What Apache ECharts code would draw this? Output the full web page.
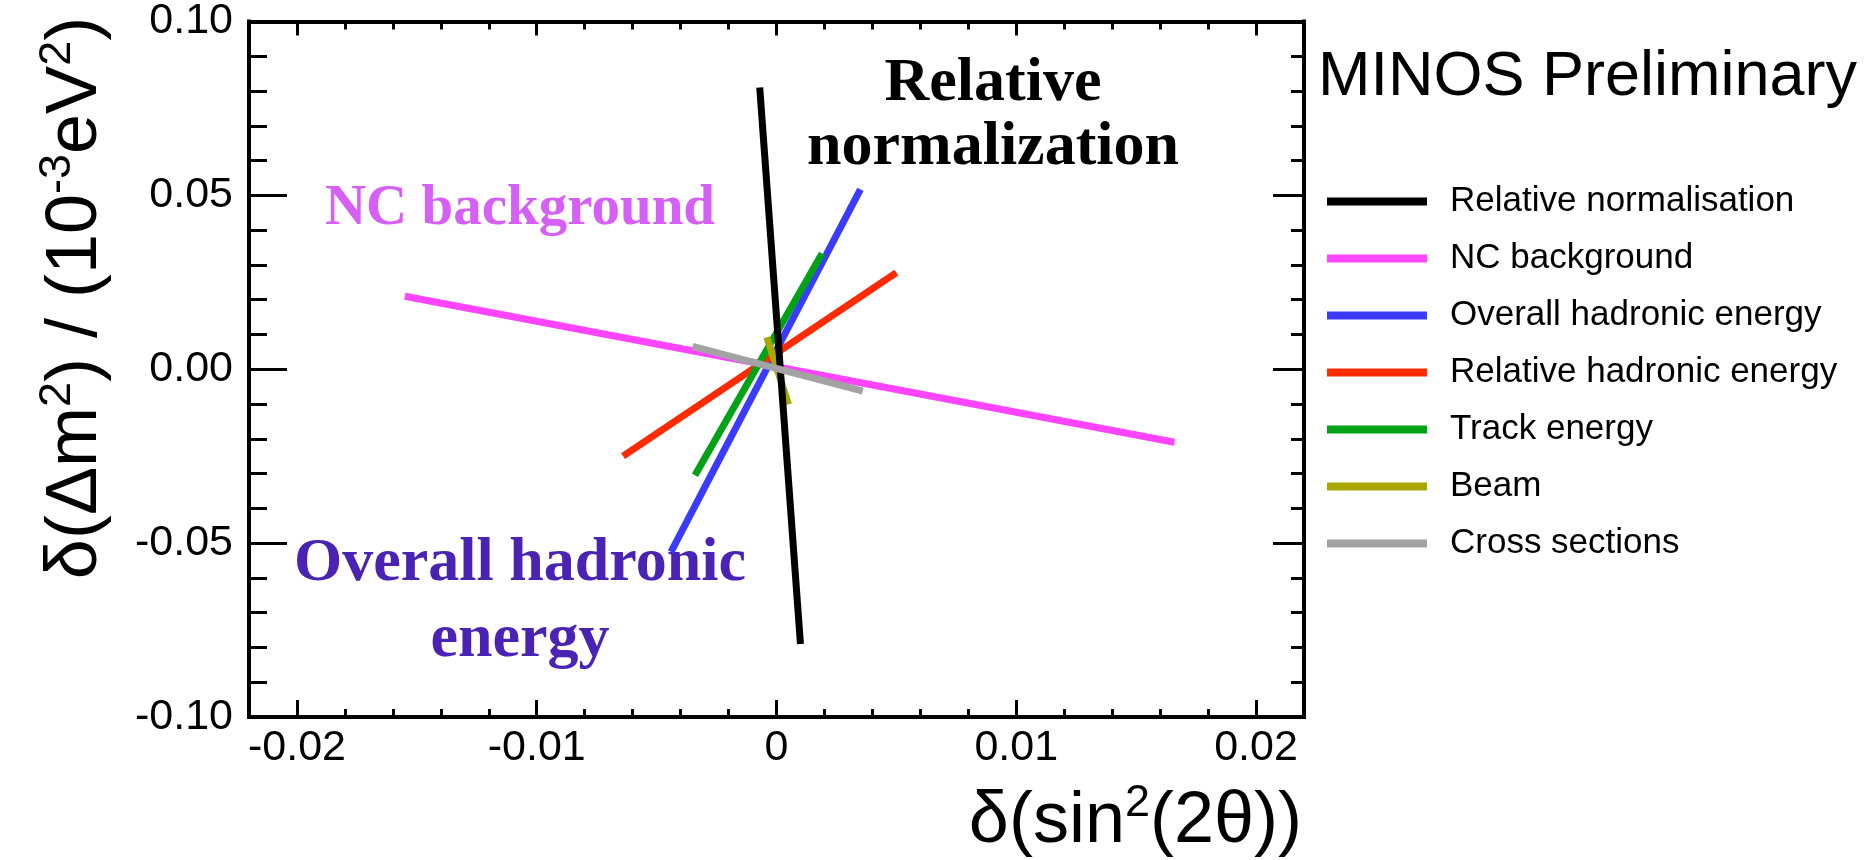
<!DOCTYPE html>
<html>
<head>
<meta charset="utf-8">
<script src="https://cdn.jsdelivr.net/npm/echarts@6/dist/echarts.min.js"></script>
<style>
  html, body { margin: 0; padding: 0; background: #fff; }
  #chart { width: 1873px; height: 860px; }
</style>
</head>
<body>
<div id="chart"></div>
<script>
// systematic shifts: each one is a line from [dsin2, ddm2] to [dsin2, ddm2]
var names = ["Relative normalisation", "NC background", "Overall hadronic energy",
  "Relative hadronic energy", "Track energy", "Beam", "Cross sections"];
var colors = ["#000000", "#ff44ff", "#3b3bff", "#ff2a00", "#00a316", "#a8a800", "#a3a3a3"];
var relNorm = [[-0.0007, 0.081], [0.001, -0.079]];
var ncBkg = [[-0.0155, 0.021], [0.0166, -0.021]];
var overallHad = [[-0.0044, -0.0525], [0.0035, 0.0517]];
var relHad = [[-0.0064, -0.025], [0.0050, 0.0278]];
var trackE = [[-0.0034, -0.0305], [0.0019, 0.0333]];
var beam = [[-0.0004, 0.0092], [0.0005, -0.0101]];
var xsec = [[-0.0035, 0.0066], [0.0036, -0.0063]];
var lines = [relNorm, ncBkg, overallHad, relHad, trackE, beam, xsec];
// draw order (last on top)
var drawOrder = [1, 2, 3, 4, 5, 0, 6];

var xTicks = [-0.02, -0.01, 0, 0.01, 0.02];
var xTickLabels = ["-0.02", "-0.01", "0", "0.01", "0.02"];
var yTicks = [-0.1, -0.05, 0, 0.05, 0.1];
var yTickLabels = ["-0.10", "-0.05", "0.00", "0.05", "0.10"];

var sans = "'Liberation Sans', Arial, Helvetica, sans-serif";
var serif = "'Liberation Serif', 'Times New Roman', serif";

function pick(vals, labels, v) {
  for (var i = 0; i < vals.length; i++) {
    if (Math.abs(vals[i] - v) < 1e-9) return labels[i];
  }
  return "";
}

var axisLine = { show: true, onZero: false, lineStyle: { color: "#000", width: 4, cap: "square" } };
var noLine = { show: false, onZero: false };
function tick(len, custom) {
  var t = { show: true, inside: true, length: len, lineStyle: { color: "#000", width: 3 } };
  if (custom) t.customValues = custom;
  return t;
}

function xAx(pos, minorLen, majorLen, labels) {
  return [{
    type: "value", position: pos, min: -0.022, max: 0.022, interval: 0.002,
    axisLine: axisLine, axisTick: tick(minorLen), axisLabel: { show: false }, splitLine: { show: false }
  }, {
    type: "value", position: pos, min: -0.022, max: 0.022,
    axisLine: noLine, axisTick: tick(majorLen, xTicks), splitLine: { show: false },
    axisLabel: labels ? {
      show: true, customValues: xTicks, margin: 10, color: "#000", fontSize: 43, fontFamily: sans,
      formatter: function (v) { return pick(xTicks, xTickLabels, v); }
    } : { show: false }
  }];
}
function yAx(pos, minorLen, majorLen, labels) {
  return [{
    type: "value", position: pos, min: -0.1, max: 0.1, interval: 0.01,
    axisLine: axisLine, axisTick: tick(minorLen), axisLabel: { show: false }, splitLine: { show: false }
  }, {
    type: "value", position: pos, min: -0.1, max: 0.1, interval: 0.05,
    axisLine: noLine, axisTick: tick(majorLen), splitLine: { show: false },
    axisLabel: labels ? {
      show: true, margin: 16, color: "#000", fontSize: 43, fontFamily: sans, padding: [12, 0, 0, 0],
      formatter: function (v) { return pick(yTicks, yTickLabels, v); }
    } : { show: false }
  }];
}

var series = drawOrder.map(function (i) {
  return {
    type: "line", name: names[i], data: lines[i], xAxisIndex: 0, yAxisIndex: 0,
    symbol: "none", showSymbol: false, animation: false, color: colors[i],
    lineStyle: { width: 7, color: colors[i], cap: "butt" }, itemStyle: { color: colors[i] }
  };
});

var supRich = {
  a: { fontSize: 72, lineHeight: 82, fontFamily: sans, color: "#000" },
  s: { fontSize: 45, lineHeight: 37, verticalAlign: "top", fontFamily: sans, color: "#000" }
};

var option = {
  backgroundColor: "#fff",
  animation: false,
  grid: { left: 249, right: 569, top: 21, bottom: 143 },
  xAxis: xAx("bottom", 8, 17, true).concat(xAx("top", 8, 14, false)),
  yAxis: yAx("left", 18, 38, true).concat(yAx("right", 13, 31, false)),
  title: {
    text: "MINOS Preliminary", left: 1318, top: 46, padding: 0,
    textStyle: { fontSize: 63, fontWeight: "normal", fontFamily: sans, color: "#000" }
  },
  legend: {
    orient: "vertical", left: 1327, top: 181, padding: 0, selectedMode: false,
    icon: "rect", itemWidth: 100, itemHeight: 8, itemGap: 16,
    itemStyle: { borderWidth: 0 },
    data: names,
    textStyle: { fontSize: 35, lineHeight: 41, color: "#000", fontFamily: sans, padding: [0, 0, 0, 18] }
  },
  series: series,
  graphic: [
    { type: "text", x: 993, y: 84, style: { text: "Relative", fontSize: 62, fontWeight: "bold", fontFamily: serif, fill: "#000", align: "center", verticalAlign: "middle" } },
    { type: "text", x: 993, y: 148, style: { text: "normalization", fontSize: 62, fontWeight: "bold", fontFamily: serif, fill: "#000", align: "center", verticalAlign: "middle" } },
    { type: "text", x: 520, y: 209, style: { text: "NC background", fontSize: 57, fontWeight: "bold", fontFamily: serif, fill: "#d65ff7", align: "center", verticalAlign: "middle" } },
    { type: "text", x: 520, y: 564, style: { text: "Overall hadronic", fontSize: 62, fontWeight: "bold", fontFamily: serif, fill: "#4a23b5", align: "center", verticalAlign: "middle" } },
    { type: "text", x: 520, y: 640, style: { text: "energy", fontSize: 62, fontWeight: "bold", fontFamily: serif, fill: "#4a23b5", align: "center", verticalAlign: "middle" } },
    { type: "text", x: 1302, y: 822, style: { text: "{a|δ(sin}{s|2}{a|(2θ))}", rich: supRich, align: "right", verticalAlign: "middle" } },
    { type: "text", x: 76, y: 298, rotation: Math.PI / 2, style: { text: "{a|δ(Δm}{s|2}{a|) / (10}{s|-3}{a|eV}{s|2}{a|)}", rich: supRich, align: "center", verticalAlign: "middle" } }
  ]
};

var myChart = echarts.init(document.getElementById("chart"));
myChart.setOption(option);
</script>
</body>
</html>
